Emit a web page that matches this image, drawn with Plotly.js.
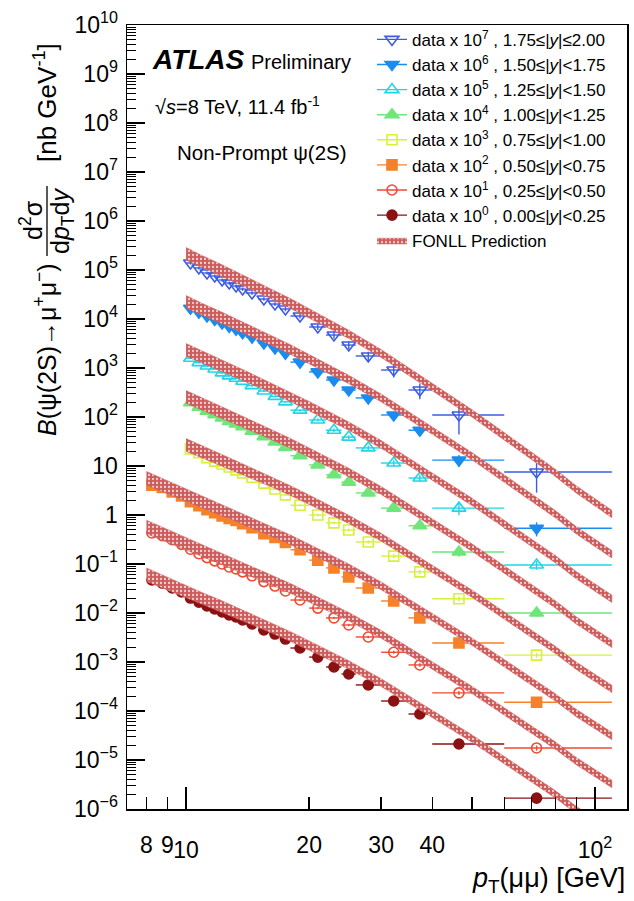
<!DOCTYPE html>
<html><head><meta charset="utf-8">
<script src="https://cdn.plot.ly/plotly-3.0.1.min.js"></script>
<style>html,body{margin:0;padding:0;background:#fff;}#chart{width:634px;height:901px;}</style>
</head><body><div id="chart"></div>
<script>
// ---- pT binning ----
const edgesCentral = [8,8.5,9,9.5,10,10.5,11,11.5,12,12.5,13,13.5,14,15,16,17,18,20,22,24,26,30,35,40,60,110];
const meanCentral  = [8.25,8.75,9.25,9.75,10.25,10.75,11.25,11.75,12.25,12.75,13.25,13.75,14.5,15.5,16.5,17.5,19,21,23,25,27.9,32.2,37.3,46.5,72];
const edgesForward = [10,10.5,11,11.5,12,12.5,13,13.5,14,15,16,17,18,20,22,24,26,30,35,40,60,110];
const meanForward  = [10.25,10.75,11.25,11.75,12.25,12.75,13.25,13.75,14.5,15.5,16.5,17.5,19,21,23,25,27.9,32.2,37.3,46.5,72];

// ---- data (already scaled by 10^n) ----
const y175_200 = [139000,110000,86900,75500,62500,54300,47100,40900,34000,25600,20200,16000,11500,6870,4710,2940,1760,910,356,110,7.55];
const y150_175 = [16600,13800,11500,9770,8320,7080,6170,5250,4270,3240,2570,2000,1320,832,569,355,245,110,53.7,13.2,0.537];
const y125_150 = [1585,1288,1096,955,794,692,617,537,437,339,263,204,138,87.1,53.7,38.9,23.4,11.5,5.69,1.38,0.0955];
const y100_125 = [195,158,132,112,95.5,81.3,72.4,63.1,51.3,39.8,30.9,24.0,16.2,10.5,6.61,4.68,2.82,1.38,0.603,0.176,0.0100];
const y075_100 = [22.4,18.6,14.8,12.6,11.0,9.55,8.32,7.24,5.89,4.47,3.39,2.57,1.58,1.00,0.692,0.494,0.282,0.145,0.0692,0.0195,0.00138];
const y050_075 = [4.07,3.63,2.95,2.45,1.86,1.55,1.29,1.12,0.955,0.851,0.776,0.661,0.550,0.417,0.347,0.275,0.195,0.120,0.0832,0.0543,0.0324,0.0176,0.00794,0.00245,0.000151];
const y025_050 = [0.430,0.380,0.313,0.252,0.200,0.162,0.135,0.116,0.100,0.0871,0.0794,0.0692,0.0575,0.0437,0.0355,0.0282,0.0184,0.0126,0.00794,0.00569,0.00324,0.00158,0.000871,0.000234,0.0000176];
const y000_025 = [0.0471,0.0409,0.0324,0.0269,0.0202,0.0167,0.0139,0.0121,0.0105,0.00910,0.00828,0.00719,0.00597,0.00450,0.00372,0.00294,0.00193,0.00126,0.000791,0.000569,0.000340,0.000160,0.0000869,0.0000212,0.00000167];

// relative uncertainties on data
const e175_200 = [0.07,0.07,0.07,0.07,0.07,0.07,0.07,0.08,0.08,0.08,0.09,0.10,0.11,0.13,0.15,0.18,0.22,0.30,0.35,0.60,0.62];
const e150_175 = [0.05,0.05,0.05,0.05,0.05,0.05,0.05,0.05,0.06,0.06,0.06,0.07,0.08,0.09,0.10,0.11,0.14,0.16,0.20,0.27,0.32];
const e125_150 = [0.04,0.04,0.04,0.04,0.04,0.04,0.04,0.04,0.05,0.05,0.05,0.05,0.06,0.07,0.08,0.09,0.12,0.14,0.16,0.28,0.20];
const e100_125 = [0.04,0.04,0.04,0.04,0.04,0.04,0.04,0.04,0.04,0.04,0.04,0.05,0.05,0.06,0.07,0.08,0.09,0.10,0.12,0.20,0.15];
const e075_100 = [0.04,0.04,0.04,0.04,0.04,0.04,0.04,0.04,0.04,0.04,0.04,0.04,0.05,0.06,0.06,0.07,0.08,0.09,0.10,0.12,0.12];
const e050_075 = [0.04,0.04,0.04,0.04,0.04,0.04,0.04,0.04,0.04,0.04,0.04,0.04,0.04,0.04,0.04,0.04,0.05,0.05,0.05,0.06,0.06,0.07,0.08,0.09,0.12];
const e025_050 = [0.04,0.04,0.04,0.04,0.04,0.04,0.04,0.04,0.04,0.04,0.04,0.04,0.04,0.04,0.04,0.04,0.05,0.05,0.05,0.06,0.06,0.07,0.08,0.09,0.12];
const e000_025 = [0.04,0.04,0.04,0.04,0.04,0.04,0.04,0.04,0.04,0.04,0.04,0.04,0.04,0.04,0.04,0.04,0.05,0.05,0.05,0.06,0.06,0.07,0.08,0.09,0.12];

// ---- FONLL prediction (central, scaled) ----
const fonllPt = [8,9,10,11,12,13,14,16,18,20,22,25,30,35,40,50,60,70,80,90,100,110];
const fonllWidthDex = [0.14,0.13,0.13,0.12,0.12,0.11,0.11,0.10,0.10,0.09,0.09,0.085,0.08,0.08,0.075,0.075,0.075,0.075,0.075,0.075,0.075,0.075];
const f175_200 = [null,null,2.14e5,1.46e5,1.05e5,7.74e4,5.71e4,3.36e4,2.07e4,1.32e4,8.61e3,4.84e3,1.98e3,855,407,119,40.4,15.9,7.26,3.33,1.80,1.05];
const f150_175 = [null,null,2.24e4,1.55e4,1.13e4,8.43e3,6.30e3,3.78e3,2.38e3,1.53e3,1.02e3,583,245,108,52.8,15.9,5.57,2.25,1.04,0.488,0.269,0.158];
const f125_150 = [null,null,2340,1640,1200,899,675,408,259,169,112,65.0,27.6,12.4,6.07,1.86,0.658,0.268,0.126,0.0593,0.0328,0.0195];
const f100_125 = [null,null,257,180,132,99.5,75.0,45.5,29.0,19.0,12.7,7.38,3.16,1.42,0.701,0.217,0.0773,0.0317,0.0150,0.00706,0.00393,0.00234];
const f075_100 = [null,null,26.9,19.0,14.0,10.6,8.00,4.90,3.15,2.07,1.39,0.815,0.352,0.160,0.0796,0.0249,0.00897,0.00371,0.00177,0.000839,0.000470,0.000282];
const f050_075 = [5.62,3.72,2.57,1.82,1.35,1.03,0.778,0.481,0.310,0.206,0.139,0.0820,0.0359,0.0164,0.00824,0.00261,0.000948,0.000396,0.000190,0.0000910,0.0000513,0.0000309];
const f025_050 = [0.569,0.376,0.260,0.1845,0.137,0.104,0.0791,0.0490,0.0317,0.0210,0.0142,0.00841,0.00368,0.00169,0.000849,0.000270,0.0000986,0.0000412,0.0000198,0.00000951,0.00000536,0.00000324];
const f000_025 = [0.0603,0.0398,0.0275,0.0195,0.0145,0.0110,0.00832,0.00513,0.00331,0.00219,0.00148,0.000871,0.000380,0.000174,0.0000871,0.0000275,0.0000100,0.00000417,0.00000200,0.000000955,0.000000537,0.000000324];

// ---- labels ----
const seriesLabels = [
  'data x 10<sup>7</sup> , 1.75≤|<i>y</i>|≤2.00',
  'data x 10<sup>6</sup> , 1.50≤|<i>y</i>|<1.75',
  'data x 10<sup>5</sup> , 1.25≤|<i>y</i>|<1.50',
  'data x 10<sup>4</sup> , 1.00≤|<i>y</i>|<1.25',
  'data x 10<sup>3</sup> , 0.75≤|<i>y</i>|<1.00',
  'data x 10<sup>2</sup> , 0.50≤|<i>y</i>|<0.75',
  'data x 10<sup>1</sup> , 0.25≤|<i>y</i>|<0.50',
  'data x 10<sup>0</sup> , 0.00≤|<i>y</i>|<0.25'
];
const xMajorVals = [10,100];
const xMajorText = ['10','10<sup>2</sup>'];
const xMinorLabelVals = [8,9,20,30,40];
const xMinorLabelText = ['8','9','20','30','40'];
const yTickVals = [1e-6,1e-5,1e-4,1e-3,1e-2,1e-1,1,10,1e2,1e3,1e4,1e5,1e6,1e7,1e8,1e9,1e10];
const yTickText = ['10<sup>−6</sup>','10<sup>−5</sup>','10<sup>−4</sup>','10<sup>−3</sup>','10<sup>−2</sup>','10<sup>−1</sup>','1','10','10<sup>2</sup>','10<sup>3</sup>','10<sup>4</sup>','10<sup>5</sup>','10<sup>6</sup>','10<sup>7</sup>','10<sup>8</sup>','10<sup>9</sup>','10<sup>10</sup>'];

const series = [
  {y:y175_200, e:e175_200, f:f175_200, fwd:true,  color:'#3d5ce0', symbol:'triangle-down-open', size:12},
  {y:y150_175, e:e150_175, f:f150_175, fwd:true,  color:'#1a8cf0', symbol:'triangle-down',      size:12},
  {y:y125_150, e:e125_150, f:f125_150, fwd:true,  color:'#1ed6e6', symbol:'triangle-up-open',   size:12},
  {y:y100_125, e:e100_125, f:f100_125, fwd:true,  color:'#6ee67a', symbol:'triangle-up',        size:12},
  {y:y075_100, e:e075_100, f:f075_100, fwd:true,  color:'#d8f03c', symbol:'square-open',        size:10},
  {y:y050_075, e:e050_075, f:f050_075, fwd:false, color:'#f5822a', symbol:'square',             size:10},
  {y:y025_050, e:e025_050, f:f025_050, fwd:false, color:'#f04a32', symbol:'circle-open',        size:10},
  {y:y000_025, e:e000_025, f:f000_025, fwd:false, color:'#8a1212', symbol:'circle',             size:10}
];

function gap(arr){ const o=[]; arr.forEach((v,i)=>{ if(i) o.push(null); o.push(v); }); return o; }

const traces = [];
series.forEach((s, k) => {
  const edges = s.fwd ? edgesForward : edgesCentral;
  const mean = s.fwd ? meanForward : meanCentral;
  const plus = mean.map((m,i)=>edges[i+1]-m);
  const minus = mean.map((m,i)=>m-edges[i]);
  const ey = s.y.map((v,i)=>v*s.e[i]);
  traces.push({
    type:'scatter', mode:'lines+markers', name: seriesLabels[k], legendrank: k+1,
    x: gap(mean), y: gap(s.y), connectgaps:false,
    line:{color:s.color, width:1.4},
    marker:{symbol:s.symbol, size:s.size, color:s.color, line:{color:s.color, width:1.6}},
    error_x:{type:'data', symmetric:false, array:gap(plus), arrayminus:gap(minus), color:s.color, thickness:1.4, width:0},
    error_y:{type:'data', array:gap(ey), color:s.color, thickness:1.4, width:0},
    cliponaxis:true, hoverinfo:'skip'
  });
});
series.forEach((s, k) => {
  const xs=[], up=[], lo=[];
  fonllPt.forEach((p,i)=>{ if(s.f[i]!==null){ xs.push(p); up.push(s.f[i]*Math.pow(10,fonllWidthDex[i])); lo.push(s.f[i]/Math.pow(10,fonllWidthDex[i])); }});
  traces.push({
    type:'scatter', mode:'lines', name:'FONLL Prediction', legendrank: 20, xaxis:'x2', yaxis:'y',
    showlegend: k===0,
    x: xs.concat(xs.slice().reverse()), y: up.concat(lo.slice().reverse()),
    fill:'toself', fillcolor:'#cd5c5c',
    fillpattern:{shape:'.', bgcolor:'#cd5c5c', fgcolor:'#f3d2d2', size:4, solidity:0.25},
    line:{width:0.5, color:'#cd5c5c'}, hoverinfo:'skip'
  });
});

const W=634, H=901, L=127, R=7, T=25, B=92;
const pw=W-L-R, ph=H-T-B;
const px = v => (v-L)/pw;
const py = v => (H-B-v)/ph;

const yMinor=[];
for(let e=-6;e<10;e++){ for(let d=2; d<=9; d++) yMinor.push(d*Math.pow(10,e)); }

const font = 'Liberation Sans, Arial, Helvetica, sans-serif';
const xr = [Math.log10(7.17), Math.log10(119.8)];
const layout = {
  width:W, height:H, margin:{l:L, r:R, t:T, b:B},
  paper_bgcolor:'#fff', plot_bgcolor:'#fff', showlegend:true,
  font:{family:font, color:'#000'},
  xaxis:{type:'log', range:xr, tickvals:xMajorVals, ticktext:xMajorText,
    ticks:'inside', ticklen:22, tickwidth:1.3, tickcolor:'#000', showline:true, mirror:true, linecolor:'#000', linewidth:1.5,
    showgrid:false, zeroline:false, tickfont:{size:23, family:font}, ticklabelstandoff:20,
    minor:{tickvals:[50,60,70,80,90], ticks:'inside', ticklen:12, tickcolor:'#000', tickwidth:1.3, showgrid:false}},
  xaxis2:{type:'log', overlaying:'x', matches:'x', side:'bottom', anchor:'y', range:xr,
    tickvals:xMinorLabelVals, ticktext:xMinorLabelText, ticks:'inside', ticklen:12, tickwidth:1.3, tickcolor:'#000',
    showline:false, showgrid:false, zeroline:false, tickfont:{size:23, family:font}, ticklabelstandoff:20},
  yaxis:{type:'log', range:[-6,10], tickvals:yTickVals, ticktext:yTickText, ticks:'inside', ticklen:18, tickwidth:1.3, tickcolor:'#000',
    showline:true, mirror:true, linecolor:'#000', linewidth:1.5, showgrid:false, zeroline:false,
    tickfont:{size:23, family:font}, ticklabelstandoff:3,
    minor:{tickvals:yMinor, ticks:'inside', ticklen:9, tickcolor:'#000', tickwidth:1, showgrid:false}},
  legend:{x:0.49, y:1.004, xanchor:'left', yanchor:'top', bgcolor:'rgba(0,0,0,0)', font:{size:17, family:font}, traceorder:'normal', tracegroupgap:0},
  annotations:[
    {xref:'paper', yref:'paper', x:px(150), y:py(60), xanchor:'left', yanchor:'middle', showarrow:false, text:'<b><i>ATLAS</i></b>', font:{size:28, family:font}},
    {xref:'paper', yref:'paper', x:px(249), y:py(62), xanchor:'left', yanchor:'middle', showarrow:false, text:'Preliminary', font:{size:20, family:font}},
    {xref:'paper', yref:'paper', x:px(153), y:py(105), xanchor:'left', yanchor:'middle', showarrow:false, text:'√<i>s</i>=8 TeV, 11.4 fb<sup>-1</sup>', font:{size:20, family:font}},
    {xref:'paper', yref:'paper', x:px(175), y:py(153), xanchor:'left', yanchor:'middle', showarrow:false, text:'Non-Prompt ψ(2S)', font:{size:20.5, family:font}},
    {xref:'paper', yref:'paper', x:1, y:py(880), xanchor:'right', yanchor:'middle', showarrow:false, text:'<i>p</i><sub>T</sub>(μμ) [GeV]', font:{size:27, family:font}},
    {xref:'paper', yref:'paper', x:px(45), y:py(350), xanchor:'center', yanchor:'middle', textangle:-90, showarrow:false, text:'<i>B</i>(ψ(2S)→μ<sup>+</sup>μ<sup>−</sup>)', font:{size:25, family:font}},
    {xref:'paper', yref:'paper', x:px(31), y:py(220), xanchor:'center', yanchor:'middle', textangle:-90, showarrow:false, text:'d<sup>2</sup>σ', font:{size:25, family:font}},
    {xref:'paper', yref:'paper', x:px(62), y:py(221), xanchor:'center', yanchor:'middle', textangle:-90, showarrow:false, text:'d<i>p</i><sub>T</sub>d<i>y</i>', font:{size:25, family:font}},
    {xref:'paper', yref:'paper', x:px(45), y:py(103), xanchor:'center', yanchor:'middle', textangle:-90, showarrow:false, text:'[nb GeV<sup>-1</sup>]', font:{size:26, family:font}}
  ],
  shapes:[
    {type:'line', xref:'paper', yref:'paper', x0:px(47), x1:px(47), y0:py(186), y1:py(256), line:{color:'#000', width:1.3}}
  ]
};
Plotly.newPlot('chart', traces, layout, {staticPlot:true, displayModeBar:false});
</script></body></html>
